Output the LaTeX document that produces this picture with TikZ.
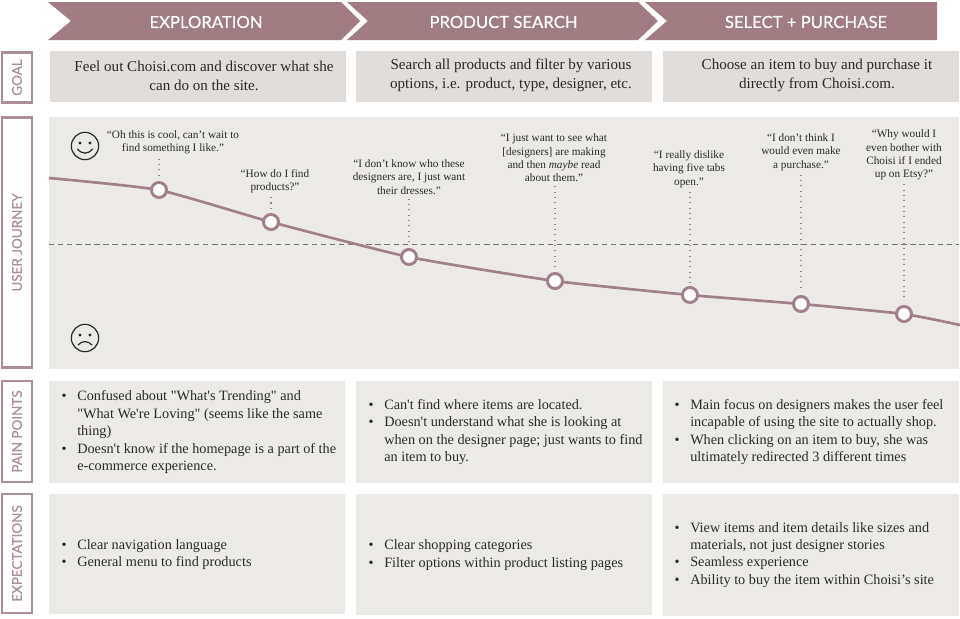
\documentclass[tikz,border=0pt]{standalone}
\usepackage{fontspec}
\usetikzlibrary{calc}
\setmainfont{Liberation Serif}
\newfontfamily\bodyf{Liberation Serif}
\newfontfamily\headf[FakeBold=0.35]{Lato}
\definecolor{rose}{HTML}{A17C83}
\definecolor{roseline}{HTML}{A0808A}
\definecolor{roselabel}{HTML}{A98E96}
\definecolor{goalbg}{HTML}{E0DDDB}
\definecolor{panelbg}{HTML}{ECEAE7}
\definecolor{ink}{HTML}{2A2A2A}
\newcommand{\bul}{\leavevmode\llap{\textbullet\hspace{8pt}}}
\tikzset{
  panel/.style={fill=panelbg,draw=none,anchor=north west,inner sep=0pt},
  goalbox/.style={fill=goalbg,draw=none,anchor=center,inner sep=0pt,minimum height=38.25pt,minimum width=222pt},
  goaltext/.style={font=\bodyf\fontsize{11.3}{14.25}\selectfont,text=ink,align=center,inner sep=0pt},
  bullets/.style={font=\bodyf\fontsize{10.7}{13.05}\selectfont,text=ink,align=left,anchor=north west,inner sep=0pt},
  quotetext/.style={font=\bodyf\fontsize{8.45}{10}\selectfont,text=ink,align=center,inner xsep=0pt,inner ysep=3pt},
  head/.style={font=\headf\fontsize{12.5}{14}\selectfont,text=white,inner sep=0pt},
  sidelabel/.style={draw=roselabel,line width=1.6pt,rotate=90,fill=white,font=\headf\fontsize{10.1}{11}\selectfont,text=roselabel,inner sep=0pt,minimum height=23pt},
  chevron/.style={fill=rose,draw=none},
  journey/.style={draw=roseline,line width=2pt,line join=round},
  stop/.style={circle,draw=roseline,fill=white,line width=2.2pt,minimum size=11.3pt,inner sep=0pt},
  dots/.style={draw=roseline,line width=0.8pt,dash pattern=on 0.8pt off 3.2pt,shorten >=2.5pt},
  midline/.style={draw=black!55,line width=0.7pt,dash pattern=on 4pt off 2.8pt},
  face/.style={circle,draw=ink,line width=0.9pt,minimum size=20.5pt,inner sep=0pt},
  facemark/.style={draw=ink,line width=0.9pt,line cap=round},
}
\begin{document}
\begin{tikzpicture}[x=0.75pt,y=-0.75pt]
\useasboundingbox (0,0) rectangle (960,618);
% chevrons
\path[chevron] (48,2) -- (341,2) -- (360,21) -- (341,40) -- (48,40) -- (71,21) -- cycle;
\path[chevron] (347,2) -- (638,2) -- (658,21) -- (638,40) -- (347,40) -- (368,21) -- cycle;
\path[chevron] (645,2) -- (937,2) -- (937,40) -- (645,40) -- (667,21) -- cycle;
\node[head] (h1) at (206,22) {EXPLORATION};
\node[head] (h2) at (503.5,22) {PRODUCT SEARCH};
\node[head] (h3) at (806,22) {SELECT + PURCHASE};
% side labels
\node[sidelabel,minimum width=37.5pt] (lgoal) at (17,77.5) {GOAL};
\node[sidelabel,minimum width=187.5pt] (ljourney) at (17,242.5) {USER JOURNEY};
\node[sidelabel,minimum width=75.5pt] (lpain) at (17,431.5) {PAIN POINTS};
\node[sidelabel,minimum width=89pt] (lexp) at (17,553.5) {EXPECTATIONS};
% goal row
\node[goalbox] (g1) at (197.5,76.5) {};
\node[goalbox] (g2) at (504,76.5) {};
\node[goalbox] (g3) at (810.5,76.5) {};
\node[goaltext] (gt1) at (204,75.5) {Feel out Choisi.com and discover what she\\can do on the site.};
\node[goaltext] (gt2) at (511,75.5) {Search all products and filter by various\\options, i.e. product, type, designer, etc.};
\node[goaltext] (gt3) at (817,75.5) {Choose an item to buy and purchase it\\directly from Choisi.com.};
% journey panel
\node[panel,minimum width=682.5pt,minimum height=189pt] (jp) at (49,117) {};
\coordinate (c0) at (49,178);
\coordinate (c1) at (159,190);
\coordinate (c2) at (271,222);
\coordinate (c3) at (409,257);
\coordinate (c4) at (555,281);
\coordinate (c5) at (690,295);
\coordinate (c6) at (801,304);
\coordinate (c7) at (904,314);
\coordinate (c8) at (960,325);
\coordinate (ml) at (49,244);
\coordinate (mr) at (959,244);
\draw[midline] (ml) -- (mr);
\draw[journey] plot[smooth,tension=0.3] coordinates {(c0) (c1) (c2) (c3) (c4) (c5) (c6) (c7) (c8)};
\node[stop] (p1) at (c1) {};
\node[stop] (p2) at (c2) {};
\node[stop] (p3) at (c3) {};
\node[stop] (p4) at (c4) {};
\node[stop] (p5) at (c5) {};
\node[stop] (p6) at (c6) {};
\node[stop] (p7) at (c7) {};
% quotes
\node[quotetext] (q1) at (173,142.5) {“Oh this is cool, can’t wait to\\find something I like.”};
\node[quotetext] (q2) at (275,181) {“How do I find\\products?”};
\node[quotetext] (q3) at (409,177) {“I don’t know who these\\designers are, I just want\\their dresses.”};
\node[quotetext] (q4) at (554,158) {“I just want to see what\\{[}designers{]} are making\\and then \textit{maybe} read\\about them.”};
\node[quotetext] (q5) at (689,169) {“I really dislike\\having five tabs\\open.”};
\node[quotetext] (q6) at (801,152) {“I don’t think I\\would even make\\a purchase.”};
\node[quotetext] (q7) at (904,155) {“Why would I\\even bother with\\Choisi if I ended\\up on Etsy?”};
\draw[dots] (p1 |- q1.south) -- (p1);
\draw[dots] (p2 |- q2.south) -- (p2);
\draw[dots] (p3 |- q3.south) -- (p3);
\draw[dots] (p4 |- q4.south) -- (p4);
\draw[dots] (p5 |- q5.south) -- (p5);
\draw[dots] (p6 |- q6.south) -- (p6);
\draw[dots] (p7 |- q7.south) -- (p7);
% faces
\node[face] (happy) at (85,146) {};
\fill[ink] ($(happy)+(-5,-3)$) circle (1.3pt);
\fill[ink] ($(happy)+(5,-3)$) circle (1.3pt);
\draw[facemark] ($(happy)+(-7.5,3)$) .. controls ($(happy)+(-3,8.5)$) and ($(happy)+(3,8.5)$) .. ($(happy)+(7.5,3)$);
\node[face] (sad) at (85,338) {};
\fill[ink] ($(sad)+(-5,-3)$) circle (1.3pt);
\fill[ink] ($(sad)+(5,-3)$) circle (1.3pt);
\draw[facemark] ($(sad)+(-7,7)$) .. controls ($(sad)+(-3,2.5)$) and ($(sad)+(3,2.5)$) .. ($(sad)+(7,7)$);
% pain points
\node[panel,minimum width=222pt,minimum height=76pt] (pp1) at (49,381) {};
\node[panel,minimum width=222pt,minimum height=76pt] (pp2) at (356,381) {};
\node[panel,minimum width=222pt,minimum height=76pt] (pp3) at (663,381) {};
\node[bullets] (pt1) at (77,390.5) {\bul Confused about "What's Trending" and\\"What We're Loving" (seems like the same\\thing)\\\bul Doesn't know if the homepage is a part of the\\e-commerce experience.};
\node[bullets] (pt2) at (384,399) {\bul Can't find where items are located.\\\bul Doesn't understand what she is looking at\\when on the designer page; just wants to find\\an item to buy.};
\node[bullets] (pt3) at (690,399) {\bul Main focus on designers makes the user feel\\incapable of using the site to actually shop.\\\bul When clicking on an item to buy, she was\\ultimately redirected 3 different times};
% expectations
\node[panel,minimum width=222pt,minimum height=90pt] (ex1) at (49,493.5) {};
\node[panel,minimum width=222pt,minimum height=91pt] (ex2) at (356,493.5) {};
\node[panel,minimum width=222pt,minimum height=92pt] (ex3) at (663,493.5) {};
\node[bullets] (et1) at (77,539) {\bul Clear navigation language\\\bul General menu to find products};
\node[bullets] (et2) at (384,539.5) {\bul Clear shopping categories\\\bul Filter options within product listing pages};
\node[bullets] (et3) at (690,522) {\bul View items and item details like sizes and\\materials, not just designer stories\\\bul Seamless experience\\\bul Ability to buy the item within Choisi’s site};
\end{tikzpicture}
\end{document}
